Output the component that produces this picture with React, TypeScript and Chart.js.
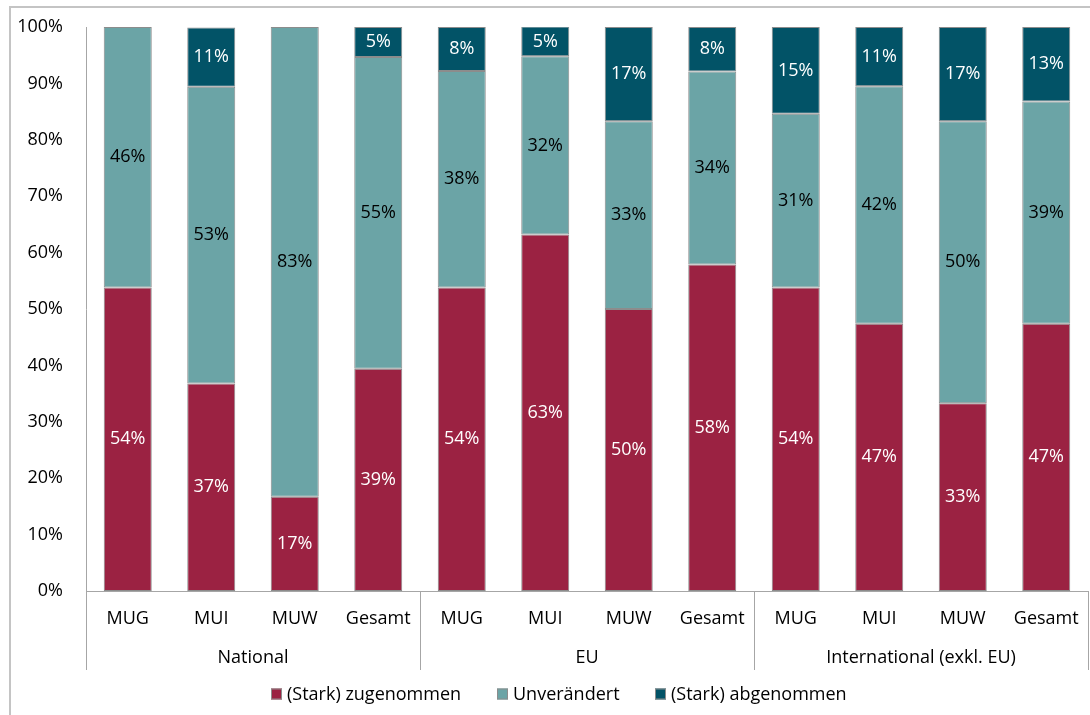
import React, { useEffect, useRef } from "react";
import { Chart, registerables } from "chart.js";

Chart.register(...registerables);

const categories = ["MUG", "MUI", "MUW", "Gesamt", "MUG", "MUI", "MUW", "Gesamt", "MUG", "MUI", "MUW", "Gesamt"];
const groups = ["National", "EU", "International (exkl. EU)"];
const groupSize = 4;
const seriesNames = ["(Stark) zugenommen", "Unverändert", "(Stark) abgenommen"];
const zugenommen = [53.8, 36.8, 16.7, 39.4, 53.8, 63.2, 50.0, 57.9, 53.8, 47.4, 33.3, 47.4];
const unveraendert = [46.2, 52.6, 83.3, 55.3, 38.4, 31.6, 33.3, 34.2, 30.8, 42.1, 50.0, 39.4];
const abgenommen = [0, 10.5, 0, 5.3, 7.8, 5.3, 16.7, 7.9, 15.4, 10.5, 16.7, 13.2];
const yTicks = [0, 10, 20, 30, 40, 50, 60, 70, 80, 90, 100];

const COLORS = ["#9B2242", "#6BA4A6", "#025367"];
const LABEL_COLORS = ["#ffffff", "#000000", "#ffffff"];
const FONT = "'Open Sans', 'Noto Sans', sans-serif";
const FONT_SIZE = 18;
const LEGEND_BOX_X = [271, 497, 655];

const decorPlugin = {
  id: "decor",
  beforeDraw(chart: any) {
    const ctx = chart.ctx;
    ctx.save();
    ctx.strokeStyle = "#c4c4c4";
    ctx.lineWidth = 2;
    ctx.strokeRect(10, 7, 1200, 800);
    ctx.restore();
  },
  afterDatasetsDraw(chart: any) {
    const ctx = chart.ctx;
    const area = chart.chartArea;
    const xs = chart.scales.x;
    ctx.save();
    ctx.font = `${FONT_SIZE}px ${FONT}`;
    ctx.textAlign = "center";
    ctx.textBaseline = "middle";
    chart.data.datasets.forEach((ds: any, di: number) => {
      const meta = chart.getDatasetMeta(di);
      meta.data.forEach((bar: any, i: number) => {
        const v = ds.data[i];
        if (!v) return;
        ctx.fillStyle = LABEL_COLORS[di];
        ctx.fillText(Math.round(v) + "%", bar.x, (bar.y + bar.base) / 2);
      });
    });
    const step = xs.getPixelForValue(1) - xs.getPixelForValue(0);
    const bottom = area.bottom;
    ctx.strokeStyle = "#a6a6a6";
    ctx.lineWidth = 1;
    ctx.beginPath();
    ctx.moveTo(area.left, bottom + 0.5);
    ctx.lineTo(area.right, bottom + 0.5);
    for (let g = 0; g <= groups.length; g++) {
      const x = Math.round(xs.getPixelForValue(g * groupSize) - step / 2) + 0.5;
      ctx.moveTo(x, bottom);
      ctx.lineTo(x, bottom + 79);
    }
    ctx.stroke();
    ctx.fillStyle = "#000";
    categories.forEach((c, i) => {
      ctx.fillText(c, xs.getPixelForValue(i), bottom + 28);
    });
    groups.forEach((g, gi) => {
      const x0 = xs.getPixelForValue(gi * groupSize);
      const x1 = xs.getPixelForValue(gi * groupSize + groupSize - 1);
      ctx.fillText(g, (x0 + x1) / 2, bottom + 67);
    });
    const box = 11;
    ctx.textAlign = "left";
    const ly = 694;
    seriesNames.forEach((n, i) => {
      const x = LEGEND_BOX_X[i];
      ctx.fillStyle = COLORS[i];
      ctx.fillRect(x, ly - box / 2, box, box);
      ctx.strokeStyle = "#8c8c8c";
      ctx.strokeRect(x + 0.5, ly - box / 2 + 0.5, box - 1, box - 1);
      ctx.fillStyle = "#000";
      ctx.fillText(n, x + box + 5, ly + 1);
    });
    ctx.restore();
  },
};

export default function App() {
  const ref = useRef<HTMLCanvasElement | null>(null);
  useEffect(() => {
    if (!ref.current) return;
    const mk = (label: string, data: number[], i: number) => ({
      label,
      data,
      backgroundColor: COLORS[i],
      borderColor: "#8c8c8c",
      borderWidth: 1,
      borderSkipped: false,
      barPercentage: 0.575,
      categoryPercentage: 1,
    });
    const chart = new Chart(ref.current, {
      type: "bar",
      data: {
        labels: categories,
        datasets: [
          mk(seriesNames[0], zugenommen, 0),
          mk(seriesNames[1], unveraendert, 1),
          mk(seriesNames[2], abgenommen, 2),
        ],
      },
      options: {
        animation: false,
        responsive: true,
        maintainAspectRatio: false,
        layout: { padding: { left: 0, top: 27, right: 2, bottom: 124 } },
        plugins: { legend: { display: false }, tooltip: { enabled: false } },
        scales: {
          x: { stacked: true, display: false },
          y: {
            stacked: true,
            min: 0,
            max: 100,
            afterFit: (s: any) => {
              s.width = 86;
              s.paddingTop = 0;
              s.paddingBottom = 0;
            },
            afterBuildTicks: (s: any) => {
              s.ticks = yTicks.map((v) => ({ value: v }));
            },
            grid: { display: false },
            border: { display: true, color: "#a6a6a6" },
            ticks: {
              padding: 15,
              color: "#000",
              font: { family: FONT, size: FONT_SIZE },
              callback: (v: any) => v + "%",
            },
          },
        },
      },
      plugins: [decorPlugin],
    });
    return () => chart.destroy();
  }, []);
  return (
    <div style={{ position: "absolute", left: 0, top: 0, width: 1090, height: 715, background: "#fff" }}>
      <canvas ref={ref} />
    </div>
  );
}
